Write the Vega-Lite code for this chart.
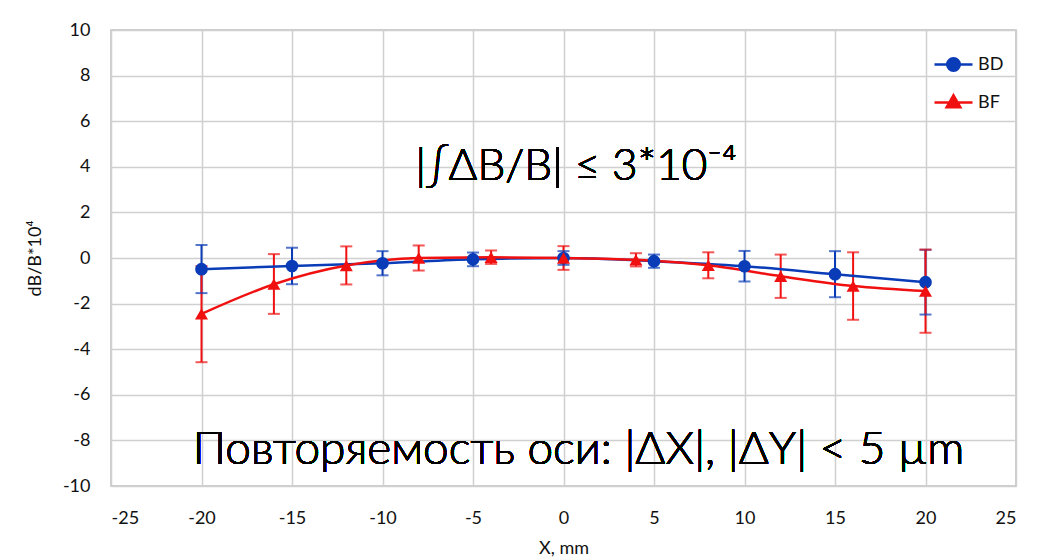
{
  "$schema": "https://vega.github.io/schema/vega-lite/v6.json",
  "width": 905,
  "height": 456,
  "autosize": "none",
  "padding": {"left": 111, "top": 30, "right": 24, "bottom": 74},
  "background": "white",
  "config": {
    "view": {"stroke": "#bfbfbf", "strokeWidth": 1.5},
    "font": "Lato",
    "axis": {
      "gridColor": "#d0d0d0",
      "gridWidth": 1.5,
      "domain": false,
      "ticks": false
    }
  },
  "data": {
    "values": [
      {"series": "BD", "x": -20, "y": -0.49, "lo": -1.54, "hi": 0.57},
      {"series": "BD", "x": -15, "y": -0.35, "lo": -1.15, "hi": 0.45},
      {"series": "BD", "x": -10, "y": -0.23, "lo": -0.76, "hi": 0.3},
      {"series": "BD", "x": -5, "y": -0.06, "lo": -0.36, "hi": 0.24},
      {"series": "BD", "x": 0, "y": 0.0, "lo": -0.3, "hi": 0.3},
      {"series": "BD", "x": 5, "y": -0.14, "lo": -0.43, "hi": 0.15},
      {"series": "BD", "x": 10, "y": -0.36, "lo": -1.03, "hi": 0.31},
      {"series": "BD", "x": 15, "y": -0.71, "lo": -1.72, "hi": 0.3},
      {"series": "BD", "x": 20, "y": -1.06, "lo": -2.48, "hi": 0.36},
      {"series": "BF", "x": -20, "y": -2.45, "lo": -4.57, "hi": -0.35},
      {"series": "BF", "x": -16, "y": -1.15, "lo": -2.45, "hi": 0.17},
      {"series": "BF", "x": -12, "y": -0.33, "lo": -1.16, "hi": 0.51},
      {"series": "BF", "x": -8, "y": 0.0, "lo": -0.55, "hi": 0.55},
      {"series": "BF", "x": -4, "y": 0.03, "lo": -0.26, "hi": 0.33},
      {"series": "BF", "x": 0, "y": 0.0, "lo": -0.52, "hi": 0.52},
      {"series": "BF", "x": 4, "y": -0.08, "lo": -0.37, "hi": 0.21},
      {"series": "BF", "x": 8, "y": -0.32, "lo": -0.89, "hi": 0.25},
      {"series": "BF", "x": 12, "y": -0.8, "lo": -1.75, "hi": 0.15},
      {"series": "BF", "x": 16, "y": -1.23, "lo": -2.71, "hi": 0.25},
      {"series": "BF", "x": 20, "y": -1.45, "lo": -3.28, "hi": 0.37}
    ]
  },
  "layer": [
    {
      "mark": {"type": "rule", "strokeWidth": 2},
      "encoding": {
        "x": {"field": "x", "type": "quantitative",
          "scale": {"domain": [-25, 25], "nice": false},
          "axis": {"values": [-25,-20,-15,-10,-5,0,5,10,15,20,25], "title": "X, mm",
            "labelExpr": "datum.value < 0 ? '-' + abs(datum.value) : '' + datum.value",
            "labelFont": "Lato", "labelFontSize": 18, "labelColor": "#111111", "labelPadding": 23,
            "titleFont": "Lato", "titleFontSize": 18, "titleFontWeight": "normal", "titleColor": "#111111", "titlePadding": 12}},
        "y": {"field": "lo", "type": "quantitative",
          "scale": {"domain": [-10, 10], "nice": false},
          "axis": {"values": [-10,-8,-6,-4,-2,0,2,4,6,8,10], "title": "dB/B*10⁴",
            "labelExpr": "datum.value < 0 ? '-' + abs(datum.value) : '' + datum.value",
            "labelFont": "Lato", "labelFontSize": 18, "labelColor": "#111111", "labelPadding": 21,
            "titleFont": "Lato", "titleFontSize": 18, "titleFontWeight": "normal", "titleColor": "#111111", "titlePadding": 18}},
        "y2": {"field": "hi"},
        "color": {"field": "series", "type": "nominal", "scale": {"domain": ["BD", "BF"], "range": ["#0a3cb8", "#f01010"]},
          "legend": {
            "title": null, "orient": "none", "legendX": 822, "legendY": 14,
            "labelFont": "Lato", "labelFontSize": 18, "labelColor": "#111111",
            "symbolSize": 1444, "rowPadding": 6, "labelOffset": 4,
            "symbolStrokeWidth": 2.5,
            "encode": {
              "symbols": {
                "update": {
                  "shape": {"signal": "datum.value === 'BD' ? 'M-1,0H1M0.33,0A0.33,0.33,0,1,1,-0.33,0A0.33,0.33,0,1,1,0.33,0Z' : 'M-1,0H1M0,-0.38L0.36,0.25L-0.36,0.25Z'"},
                  "stroke": {"signal": "scale('color', datum.value)"},
                  "fill": {"signal": "scale('color', datum.value)"},
                  "strokeWidth": {"value": 2.5},
                  "opacity": {"value": 1}
                }
              }
            }
          }}
      }
    },
    {
      "mark": {"type": "tick", "orient": "horizontal", "size": 12, "thickness": 2},
      "encoding": {
        "x": {"field": "x", "type": "quantitative"},
        "y": {"field": "lo", "type": "quantitative"},
        "color": {"field": "series", "type": "nominal"}
      }
    },
    {
      "mark": {"type": "tick", "orient": "horizontal", "size": 12, "thickness": 2},
      "encoding": {
        "x": {"field": "x", "type": "quantitative"},
        "y": {"field": "hi", "type": "quantitative"},
        "color": {"field": "series", "type": "nominal"}
      }
    },
    {
      "mark": {"type": "line", "interpolate": "monotone", "strokeWidth": 2.5},
      "encoding": {
        "x": {"field": "x", "type": "quantitative"},
        "y": {"field": "y", "type": "quantitative"},
        "color": {"field": "series", "type": "nominal"}
      }
    },
    {
      "transform": [{"filter": "datum.series === 'BD'"}],
      "mark": {"type": "point", "shape": "circle", "filled": true, "opacity": 1, "size": 160},
      "encoding": {
        "x": {"field": "x", "type": "quantitative"},
        "y": {"field": "y", "type": "quantitative"},
        "color": {"field": "series", "type": "nominal"}
      }
    },
    {
      "transform": [{"filter": "datum.series === 'BF'"}],
      "mark": {"type": "point", "shape": "triangle-up", "filled": true, "opacity": 1, "size": 170},
      "encoding": {
        "x": {"field": "x", "type": "quantitative"},
        "y": {"field": "y", "type": "quantitative"},
        "color": {"field": "series", "type": "nominal"}
      }
    },
    {
      "mark": {"type": "text", "font": "Lato", "fontWeight": 300, "fontSize": 44, "align": "center", "baseline": "alphabetic", "fill": "#000000", "strokeWidth": 0},
      "encoding": {
        "x": {"datum": 0.7},
        "y": {"datum": 3.4},
        "text": {"value": "|∫ΔB/B| ≤ 3*10⁻⁴"}
      }
    },
    {
      "mark": {"type": "text", "font": "Lato", "fontWeight": 300, "fontSize": 46, "align": "center", "baseline": "alphabetic", "fill": "#000000", "strokeWidth": 0},
      "encoding": {
        "x": {"datum": 0.83},
        "y": {"datum": -9.05},
        "text": {"value": "Повторяемость оси: |ΔX|, |ΔY| < 5 µm"}
      }
    }
  ]
}
